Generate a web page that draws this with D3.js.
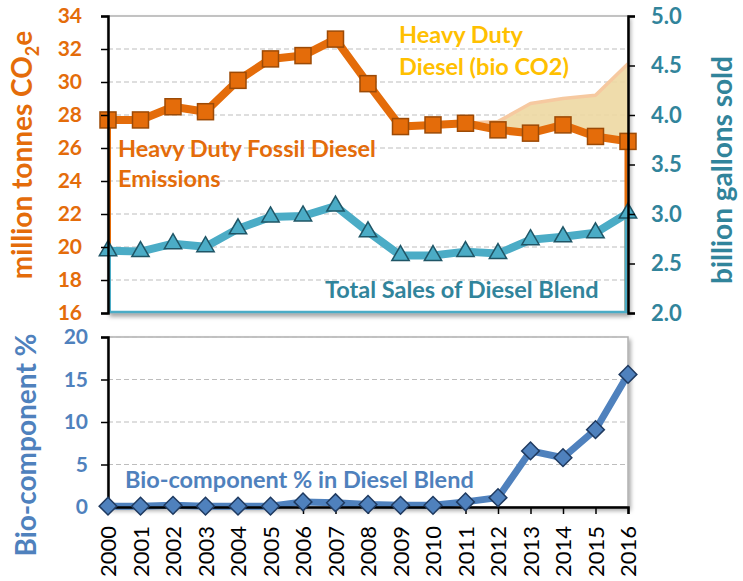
<!DOCTYPE html>
<meta charset="utf-8">
<script src="https://d3js.org/d3.v7.min.js"></script>
<style>
  body { margin: 0; background: #fff; }
  text { font-family: Lato, "Open Sans", sans-serif; }
</style>
<div id="chart"></div>
<script>

// data
var years = [2000, 2001, 2002, 2003, 2004, 2005, 2006, 2007, 2008, 2009, 2010, 2011, 2012, 2013, 2014, 2015, 2016]
var fossilCO2 = [27.7, 27.7, 28.5, 28.2, 30.1, 31.4, 31.6, 32.6, 29.9, 27.3, 27.4, 27.5, 27.1, 26.9, 27.4, 26.7, 26.4]
var bioCO2 = [0, 0, 0, 0, 0, 0, 0, 0, 0, 0, 0, 0, 0.5, 1.8, 1.6, 2.5, 4.7]
var salesGal = [2.63, 2.62, 2.70, 2.67, 2.85, 2.97, 2.98, 3.08, 2.82, 2.58, 2.58, 2.62, 2.60, 2.74, 2.77, 2.81, 3.01]
var bioPct = [0.1, 0.1, 0.2, 0.1, 0.1, 0.1, 0.6, 0.5, 0.3, 0.2, 0.2, 0.6, 1.1, 6.6, 5.8, 9.1, 15.6]
var co2Ticks = [16, 18, 20, 22, 24, 26, 28, 30, 32, 34]
var galTicks = [2.0, 2.5, 3.0, 3.5, 4.0, 4.5, 5.0]
var pctTicks = [0, 5, 10, 15, 20]

var width = 743, height = 581
var orange = "#E46C0A", teal = "#4BACC6", tealDark = "#31849B", blue = "#4F81BD"

var svg = d3.select("#chart").append("svg")
    .attr("width", width)
    .attr("height", height)

// drop shadow for the plot boxes
var defs = svg.append("defs")
defs.append("filter").attr("id", "shadow")
    .attr("x", "-5%").attr("y", "-5%").attr("width", "115%").attr("height", "115%")
  .append("feDropShadow")
    .attr("dx", 2).attr("dy", 3).attr("stdDeviation", 2)
    .attr("flood-color", "#000").attr("flood-opacity", 0.35)

var x = d3.scaleLinear().domain([2000, 2016]).range([108, 628])
var yL = d3.scaleLinear().domain([16, 34]).range([313, 16])
var yR = d3.scaleLinear().domain([2, 5]).range([313, 16])
var yB = d3.scaleLinear().domain([0, 20]).range([507, 337])

// plot boxes
function box(top, bottom) {
  svg.append("rect")
    .attr("x", x(2000)).attr("y", top)
    .attr("width", x(2016) - x(2000)).attr("height", bottom - top)
    .attr("fill", "#fff").attr("stroke", "#b0b0b0").attr("stroke-width", 1.5)
    .attr("filter", "url(#shadow)")
}
box(yL(34), yL(16))
box(yB(20), yB(0))

// dashed gridlines
function grid(scale, ticks) {
  svg.append("g").selectAll("line")
    .data(ticks)
    .enter().append("line")
      .attr("x1", x(2000)).attr("x2", x(2016))
      .attr("y1", function(d) { return scale(d) })
      .attr("y2", function(d) { return scale(d) })
      .attr("stroke", "#bdbdbd").attr("stroke-width", 1.2)
      .attr("stroke-dasharray", "5,3")
}
grid(yL, co2Ticks.slice(1, -1))
grid(yB, pctTicks.slice(1))

// ---- top chart ----
// bio CO2 stacked on the fossil line
var bioArea = d3.area()
  .x(function(d, i) { return x(years[i]) })
  .y0(function(d, i) { return yL(fossilCO2[i]) })
  .y1(function(d, i) { return yL(fossilCO2[i] + d) })
svg.append("path")
  .attr("d", bioArea(bioCO2))
  .attr("fill", "#EDD8A2").attr("fill-opacity", 0.9)
svg.append("path")
  .attr("d", d3.line()
      .x(function(d, i) { return x(years[i]) })
      .y(function(d, i) { return yL(fossilCO2[i] + d) })(bioCO2))
  .attr("fill", "none").attr("stroke", "#F6C9A0").attr("stroke-width", 3.5)
  .attr("stroke-linejoin", "round")

// area outline edges (thin)
function edges(scale, vals, color) {
  var first = vals[0], last = vals[vals.length - 1]
  svg.append("path")
    .attr("d", "M" + (x(2000) + 1.5) + "," + scale.range()[0] + "V" + scale(first) +
               "M" + (x(2016) - 2) + "," + scale.range()[0] + "V" + scale(last))
    .attr("stroke", color).attr("stroke-width", 3).attr("fill", "none")
}
edges(yL, fossilCO2, orange)

var fossilLine = d3.line()
  .x(function(d, i) { return x(years[i]) })
  .y(function(d) { return yL(d) })
svg.append("path")
  .attr("d", fossilLine(fossilCO2))
  .attr("fill", "none").attr("stroke", orange).attr("stroke-width", 8)
  .attr("stroke-linejoin", "round")

edges(yR, salesGal, teal)
svg.append("line")
  .attr("x1", x(2000)).attr("x2", x(2016))
  .attr("y1", yR(2) - 1).attr("y2", yR(2) - 1)
  .attr("stroke", teal).attr("stroke-width", 2.5)

var salesLine = d3.line()
  .x(function(d, i) { return x(years[i]) })
  .y(function(d) { return yR(d) })
svg.append("path")
  .attr("d", salesLine(salesGal))
  .attr("fill", "none").attr("stroke", teal).attr("stroke-width", 8)
  .attr("stroke-linejoin", "round")

// square markers
svg.append("g").selectAll("rect")
  .data(fossilCO2)
  .enter().append("rect")
    .attr("x", function(d, i) { return x(years[i]) - 8 })
    .attr("y", function(d) { return yL(d) - 8 })
    .attr("width", 16).attr("height", 16)
    .attr("fill", orange).attr("stroke", "#9C4A06").attr("stroke-width", 1.5)

// triangle markers
var tri = d3.symbol().type(d3.symbolTriangle).size(130)
svg.append("g").selectAll("path")
  .data(salesGal)
  .enter().append("path")
    .attr("d", tri)
    .attr("transform", function(d, i) { return "translate(" + x(years[i]) + "," + yR(d) + ")" })
    .attr("fill", teal).attr("stroke", "#1F5566").attr("stroke-width", 1.5)

// axes
var axL = svg.append("g")
  .attr("transform", "translate(" + x(2000) + ",0)")
  .call(d3.axisLeft(yL).tickValues(co2Ticks).tickSize(7).tickFormat(d3.format("d")))
var axR = svg.append("g")
  .attr("transform", "translate(" + x(2016) + ",0)")
  .call(d3.axisRight(yR).tickValues(galTicks).tickSize(7).tickFormat(d3.format(".1f")))
var axB = svg.append("g")
  .attr("transform", "translate(" + x(2000) + ",0)")
  .call(d3.axisLeft(yB).tickValues(pctTicks).tickSize(7).tickFormat(d3.format("d")))

// ---- bottom chart ----
var pctLine = d3.line()
  .x(function(d, i) { return x(years[i]) })
  .y(function(d) { return yB(d) })
svg.append("path")
  .attr("d", pctLine(bioPct))
  .attr("fill", "none").attr("stroke", blue).attr("stroke-width", 7)
  .attr("stroke-linejoin", "round")

var axX = svg.append("g")
  .attr("transform", "translate(0," + yB(0) + ")")
  .call(d3.axisBottom(x).tickValues(years).tickSize(7).tickFormat(d3.format("d")))

var dia = d3.symbol().type(d3.symbolDiamond2).size(200)
svg.append("g").selectAll("path")
  .data(bioPct)
  .enter().append("path")
    .attr("d", dia)
    .attr("transform", function(d, i) { return "translate(" + x(years[i]) + "," + yB(d) + ")" })
    .attr("fill", blue).attr("stroke", "#1F3A60").attr("stroke-width", 1.5)

// axis styling
svg.selectAll(".domain").attr("stroke", "#000").attr("stroke-width", 2.5)
svg.selectAll(".tick line").attr("stroke", "#000").attr("stroke-width", 1.5)
axL.selectAll("text").attr("fill", orange).style("font-size", "21px").style("font-weight", "bold").attr("x", -26)
axR.selectAll("text").attr("fill", tealDark).style("font-size", "22px").style("font-weight", "bold").attr("x", 23)
axB.selectAll("text").attr("fill", blue).style("font-size", "21px").style("font-weight", "bold").attr("x", -20)
axX.selectAll("text")
  .attr("fill", "#000").style("font-size", "22px")
  .attr("transform", "rotate(-90)")
  .attr("x", -19).attr("y", 0).attr("dy", "0.35em")
  .style("text-anchor", "end")

// axis titles
var tL = svg.append("text")
  .attr("transform", "translate(32,155) rotate(-90)")
  .attr("text-anchor", "middle")
  .attr("fill", orange).style("font-size", "28px").style("font-weight", "bold")
tL.append("tspan").text("million tonnes CO")
tL.append("tspan").text("2").attr("dy", 7).style("font-size", "18px")
tL.append("tspan").text("e").attr("dy", -7)

svg.append("text")
  .attr("transform", "translate(732,170) rotate(-90)")
  .attr("text-anchor", "middle")
  .attr("fill", tealDark).style("font-size", "28px").style("font-weight", "bold")
  .text("billion gallons sold")

svg.append("text")
  .attr("transform", "translate(36,445) rotate(-90)")
  .attr("text-anchor", "middle")
  .attr("fill", blue).style("font-size", "28px").style("font-weight", "bold")
  .text("Bio-component %")

// series labels
function label(txt, px, py, color) {
  svg.append("text")
    .attr("x", px).attr("y", py)
    .attr("fill", color).style("font-size", "23.5px").style("font-weight", "bold")
    .text(txt)
}
label("Heavy Duty Fossil Diesel", 118, 157, orange)
label("Emissions", 118, 187, orange)
label("Heavy Duty", 399, 43, "#FFC000")
label("Diesel (bio CO2)", 399, 75, "#FFC000")
label("Total Sales of Diesel Blend", 325, 298, tealDark)
label("Bio-component % in Diesel Blend", 125, 488, blue)

</script>
